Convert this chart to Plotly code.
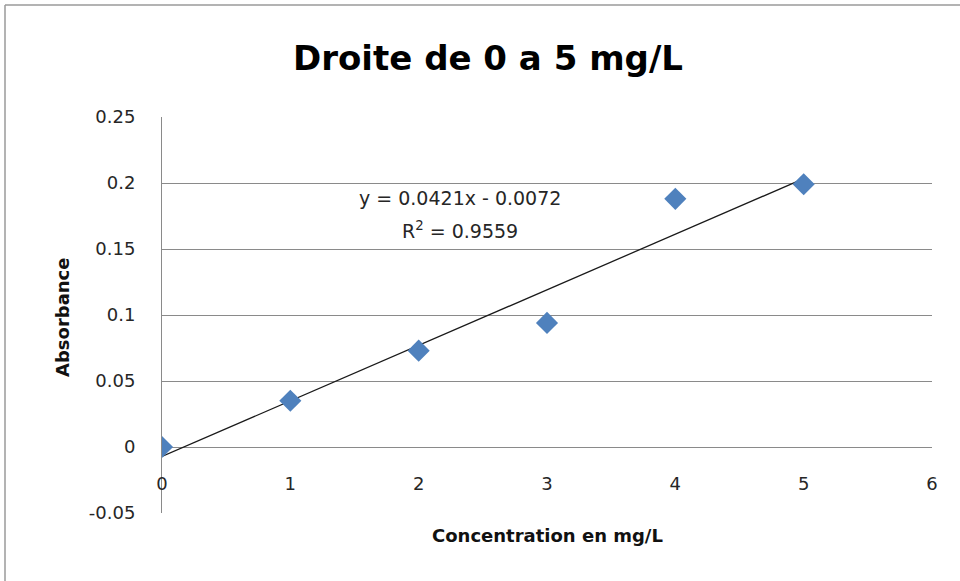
import plotly.graph_objects as go

# Calibration data
concentration = [0, 1, 2, 3, 4, 5]
absorbance = [0.0, 0.035, 0.073, 0.094, 0.188, 0.199]

# Linear trendline coefficients
slope = 0.0421
intercept = -0.0072
r_squared = 0.9559

x_ticks = [0, 1, 2, 3, 4, 5, 6]
y_ticks = [-0.05, 0, 0.05, 0.1, 0.15, 0.2, 0.25]
y_tick_labels = ["-0.05", "0", "0.05", "0.1", "0.15", "0.2", "0.25"]

W, H = 960, 581
ML, MR, MT, MB = 162, 28, 117, 68
PW, PH = W - ML - MR, H - MT - MB

FONT = "DejaVu Sans"
GRID = "#8a8a8a"
TXT = "#262626"

fig = go.Figure()

trend_x = [concentration[0], concentration[-1]]
trend_y = [slope * x + intercept for x in trend_x]
fig.add_trace(go.Scatter(
    x=trend_x, y=trend_y, mode="lines",
    line=dict(color="#1a1a1a", width=1.3),
    hoverinfo="skip", showlegend=False,
))

fig.add_trace(go.Scatter(
    x=concentration, y=absorbance, mode="markers",
    marker=dict(symbol="diamond", size=17, color="#4f81bd",
                line=dict(width=0)),
    showlegend=False,
))

# Trendline equation and R²
eq_line = f"y = {slope:.4f}x - {abs(intercept):.4f}"
r2_line = f"R<sup>2</sup> = {r_squared:.4f}"
fig.add_annotation(x=2.32, y=0.1885, xref="x", yref="y", text=eq_line,
                   showarrow=False, font=dict(family=FONT, size=19, color=TXT))
fig.add_annotation(x=2.32, y=0.1645, xref="x", yref="y", text=r2_line,
                   showarrow=False, font=dict(family=FONT, size=19, color=TXT))

y_range = [-0.05, 0.25]
zero_pos = (0 - y_range[0]) / (y_range[1] - y_range[0])

fig.update_layout(
    width=W, height=H,
    margin=dict(l=ML, r=MR, t=MT, b=MB),
    paper_bgcolor="white", plot_bgcolor="white",
    title=dict(text="<b>Droite de 0 a 5 mg/L</b>", x=488 / W,
               xanchor="center", y=1 - 58 / H, yanchor="middle",
               font=dict(family=FONT, size=34, color="#000")),
    xaxis=dict(
        range=[0, 6], tickvals=x_ticks, ticktext=[str(v) for v in x_ticks],
        showgrid=False, zeroline=False, showline=False,
        anchor="free", position=zero_pos,
        ticks="", ticklabelstandoff=24,
        tickfont=dict(family=FONT, size=18, color=TXT),
        title=None,
    ),
    yaxis=dict(
        range=y_range, tickvals=y_ticks, ticktext=y_tick_labels,
        showgrid=True, gridcolor=GRID, gridwidth=1,
        zeroline=False, showline=True, linecolor=GRID, linewidth=1,
        ticks="", ticklabelstandoff=22,
        tickfont=dict(family=FONT, size=18, color=TXT),
        title=None,
    ),
)

# Axis titles
fig.add_annotation(
    x=(547 - ML) / PW, y=(H - MB - 535) / PH, xref="paper", yref="paper",
    xanchor="center", yanchor="middle",
    text="<b>Concentration en mg/L</b>", showarrow=False,
    font=dict(family=FONT, size=18, color="#111"),
)
fig.add_annotation(
    x=(62 - ML) / PW, y=(H - MB - 317) / PH, xref="paper", yref="paper",
    xanchor="center", yanchor="middle",
    text="<b>Absorbance</b>", showarrow=False, textangle=-90,
    font=dict(family=FONT, size=18, color="#111"),
)

# Chart frame
fx0 = (5 - ML) / PW
fy1 = (H - MB - 5) / PH
fig.add_shape(type="line", xref="paper", yref="paper",
              x0=fx0, x1=(W + 10 - ML) / PW, y0=fy1, y1=fy1,
              line=dict(color="#9a9a9a", width=1.5))
fig.add_shape(type="line", xref="paper", yref="paper",
              x0=fx0, x1=fx0, y0=fy1, y1=(-20 - MB) / PH,
              line=dict(color="#9a9a9a", width=1.5))

fig.write_html("out.html")
